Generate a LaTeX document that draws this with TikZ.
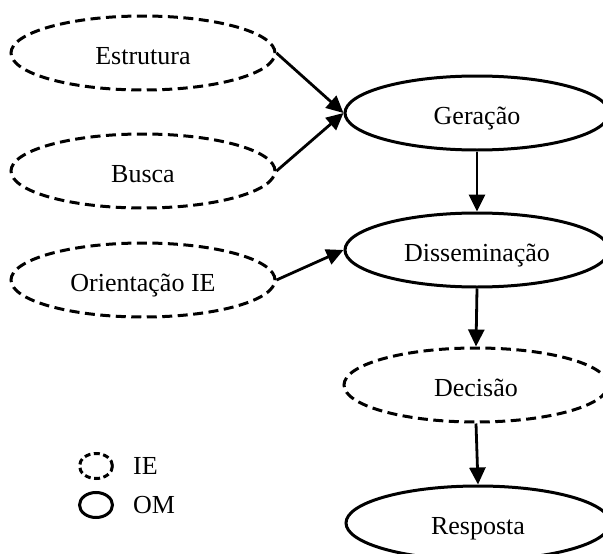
\documentclass[tikz,border=0pt]{standalone}
\usepackage{fontspec}
\setmainfont{Liberation Serif}
\usetikzlibrary{shapes.geometric,arrows.meta}
\tikzset{
  om/.style={ellipse, draw, line width=3pt, minimum width=264pt, minimum height=74pt, inner sep=0pt, text height=22pt, text depth=0pt, font=\fontsize{26}{29}\selectfont},
  ie/.style={om, dash pattern=on 10pt off 5.5pt},
  arr/.style={line width=2.8pt, -{Triangle[length=17pt,width=16pt]}},
  lg/.style={ellipse, draw, line width=3pt, minimum width=33pt, minimum height=25pt, inner sep=0pt},
  lgt/.style={anchor=west, inner sep=0pt, font=\fontsize{26}{29}\selectfont}
}
\begin{document}
\begin{tikzpicture}[x=1pt,y=-1pt]
\useasboundingbox (0,0) rectangle (603,554);
\node[ie] (est) at (143,53) {Estrutura};
\node[ie] (bus) at (143,171) {Busca};
\node[ie] (ori) at (143,280) {Orientação IE};
\node[om] (ger) at (477,113) {Geração};
\node[om] (dis) at (477,250) {Disseminação};
\node[ie] (dec) at (476,385) {Decisão};
\node[om] (res) at (478,523) {Resposta};
\draw[arr] (est.east) -- (ger.west);
\draw[arr] (bus.east) -- (ger.west);
\draw[arr] (ori.east) -- (dis.west);
\draw[arr] (ger.south) -- (dis.north);
\draw[arr] (dis.south) -- (dec.north);
\draw[arr] (dec.south) -- (res.north);
\node[lg, dash pattern=on 6pt off 3.5pt] (lie) at (96,466) {};
\node[lg] (lom) at (96,505) {};
\node[lgt] (tie) at (133,466) {IE};
\node[lgt] (tom) at (133,505) {OM};
\end{tikzpicture}
\end{document}
